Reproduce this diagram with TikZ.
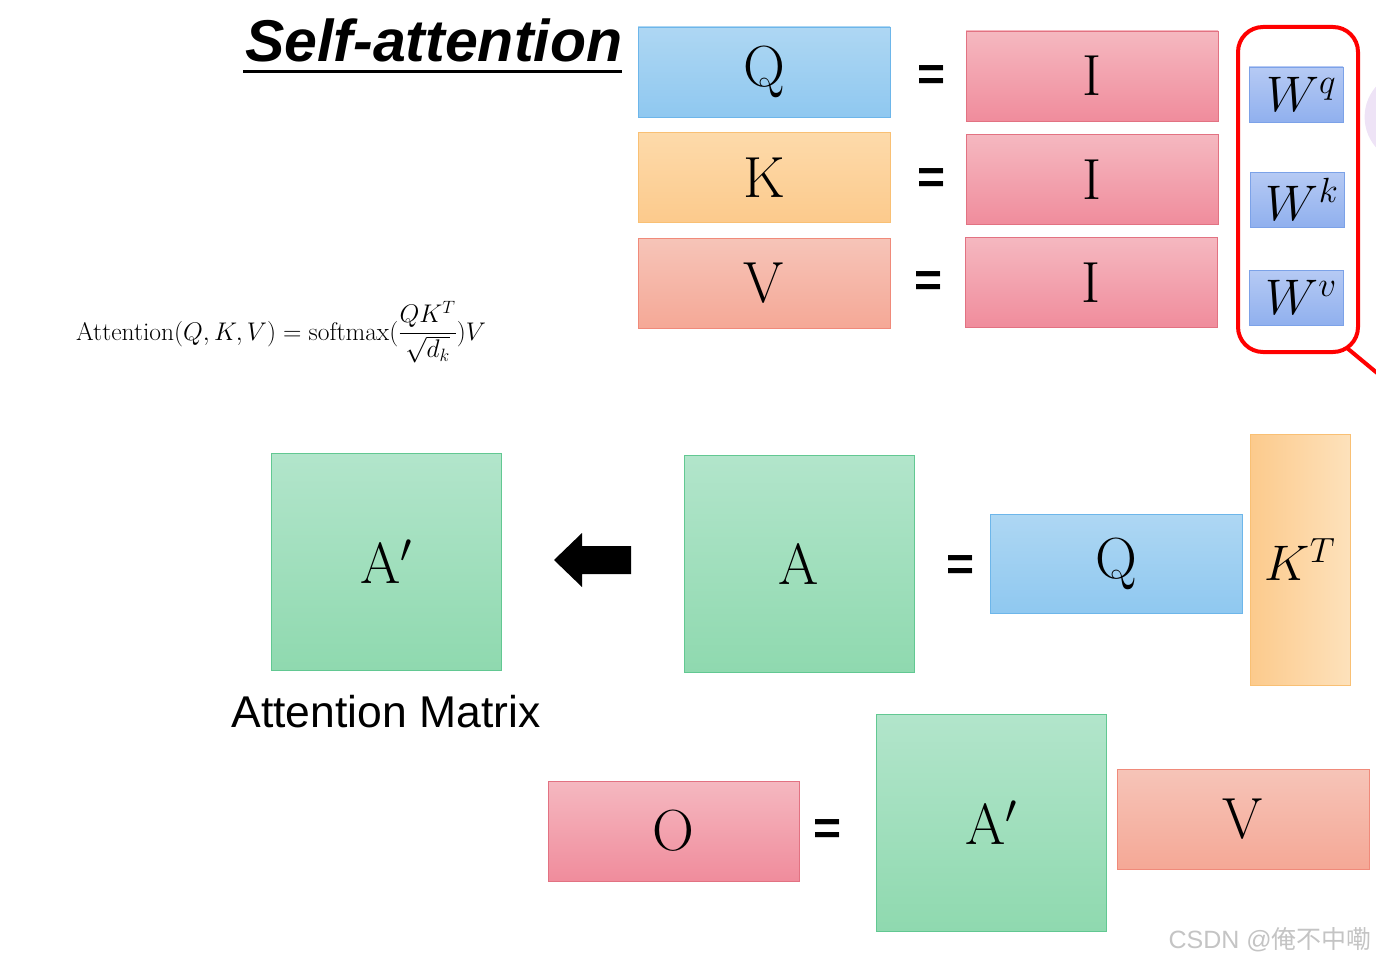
\RequirePackage{fix-cm}
\documentclass[tikz,border=0pt]{standalone}
\usepackage{fontspec}
\newfontfamily\arialfont{Liberation Sans}
\newfontfamily\cjkfont{Noto Sans CJK SC}
\usepackage{xcolor}
\usetikzlibrary{positioning}

\definecolor{qtop}{HTML}{AED7F3}
\definecolor{qbot}{HTML}{8FC8F0}
\definecolor{qline}{HTML}{6DB6EA}
\definecolor{ktop}{HTML}{FDDAAA}
\definecolor{kbot}{HTML}{FCCA8C}
\definecolor{kline}{HTML}{F9C074}
\definecolor{vtop}{HTML}{F6C4B8}
\definecolor{vbot}{HTML}{F5A896}
\definecolor{vline}{HTML}{F08A7A}
\definecolor{itop}{HTML}{F5B8C0}
\definecolor{ibot}{HTML}{F08C9C}
\definecolor{iline}{HTML}{E27282}
\definecolor{wtop}{HTML}{B6CAF4}
\definecolor{wbot}{HTML}{90B0EE}
\definecolor{wline}{HTML}{7CA2E8}
\definecolor{gtop}{HTML}{B2E5CB}
\definecolor{gbot}{HTML}{8FD9AF}
\definecolor{gline}{HTML}{62C892}
\definecolor{circfill}{HTML}{EEE3F6}
\definecolor{markgrey}{HTML}{C4C4C4}

\begin{document}
\begin{tikzpicture}[
        x=1pt, y=-1pt,
        box/.style={draw, line width=0.8pt, inner sep=0pt, font=\fontsize{58}{60}\selectfont},
        qbox/.style={box, draw=qline, top color=qtop, bottom color=qbot, minimum width=252pt, minimum height=90pt},
        kbox/.style={box, draw=kline, top color=ktop, bottom color=kbot, minimum width=252pt, minimum height=90pt},
        vbox/.style={box, draw=vline, top color=vtop, bottom color=vbot, minimum width=252pt, minimum height=90pt},
        ibox/.style={box, draw=iline, top color=itop, bottom color=ibot, minimum width=252pt, minimum height=90pt},
        wbox/.style={box, draw=wline, top color=wtop, bottom color=wbot, minimum width=94pt, minimum height=55pt, font=\fontsize{50}{52}\selectfont},
        abox/.style={box, draw=gline, top color=gtop, bottom color=gbot, minimum width=230pt, minimum height=217pt},
        eqsign/.style={font=\arialfont\bfseries\fontsize{48}{50}\selectfont, inner sep=0pt},
        redline/.style={draw=red, line width=4pt}
    ]
        \useasboundingbox (0,0) rectangle (1376,963);

        % Title and formula
        \node[anchor=base west, inner sep=0pt, font=\arialfont\bfseries\itshape\fontsize{59}{62}\selectfont] (title) at (245,62) {Self-attention};
        \draw[line width=3pt] ([xshift=-2pt, yshift=-10pt]title.base west) -- ([yshift=-10pt]title.base east);
        \node[anchor=base west, inner sep=0pt, font=\fontsize{25.5}{30}\selectfont] (formula) at (76,340)
            {Attention$(Q,K,V)=\mathrm{softmax}({\displaystyle\frac{QK^T}{\sqrt{d_k}}})V$};

        % Q, K, V = I W
        \node[qbox] (Q) at (764,72) {Q};
        \node[kbox, below=15pt of Q] (K) {K};
        \node[vbox, below=15pt of K] (V) {V};
        \node[ibox] (Iq) at (1092,76) {I};
        \node[ibox, below=13pt of Iq] (Ik) {I};
        \node[ibox, below=12pt of Ik, xshift=-1pt] (Iv) {I};
        \node[eqsign] (eq1) at (932,78) {=};
        \node[eqsign] (eq2) at (932,181) {=};
        \node[eqsign] (eq3) at (929,284) {=};

        \fill[circfill] (1411,117) circle (46.4);
        \node[wbox] (Wq) at (1296,94.5) {\hspace*{10pt}$W^q$};
        \node[wbox] (Wk) at (1297,199.5) {\hspace*{10pt}$W^k$};
        \node[wbox] (Wv) at (1296,297.5) {\hspace*{10pt}$W^v$};
        \node[draw=red, line width=4pt, rounded corners=25pt, minimum width=120pt, minimum height=325pt] (frame) at (1298,189.5) {};
        \coordinate (wout) at (1400,392);
        \draw[redline] ([xshift=-13pt, yshift=6pt]frame.south east) -- (wout);

        % A = Q K^T
        \node[abox] (Ap) at (386,562) {A$'$};
        \node[font=\arialfont\fontsize{44.5}{48}\selectfont, inner sep=0pt] (amlabel) at (386,712) {Attention Matrix};
        \fill (554,560) -- (582,533) -- (582,546) -- (631,546) -- (631,574) -- (582,574) -- (582,587) -- cycle;
        \node[abox] (A) at (799,563.5) {A};
        \node[eqsign] (eq4) at (961,568) {=};
        \node[qbox, minimum height=99pt] (Q2) at (1116,563.5) {Q};
        \node[box, draw=kline, left color=kbot, right color=ktop!80!white, minimum width=100pt, minimum height=251pt, font=\fontsize{50}{52}\selectfont] (KT) at (1300,559.5) {$K^T$};

        % O = A' V
        \node[ibox, minimum width=251pt, minimum height=100pt] (O) at (673.5,831) {O};
        \node[eqsign] (eq5) at (828,832) {=};
        \node[abox] (Ap2) at (991,822.5) {A$'$};
        \node[vbox, minimum height=100pt] (V2) at (1243,819) {V};

        \node[anchor=east, inner sep=0pt, text=markgrey, font=\fontsize{25}{27}\selectfont] (mark) at (1372,940)
            {\arialfont CSDN @\cjkfont 俺不中嘞};

    \end{tikzpicture}
\end{document}
